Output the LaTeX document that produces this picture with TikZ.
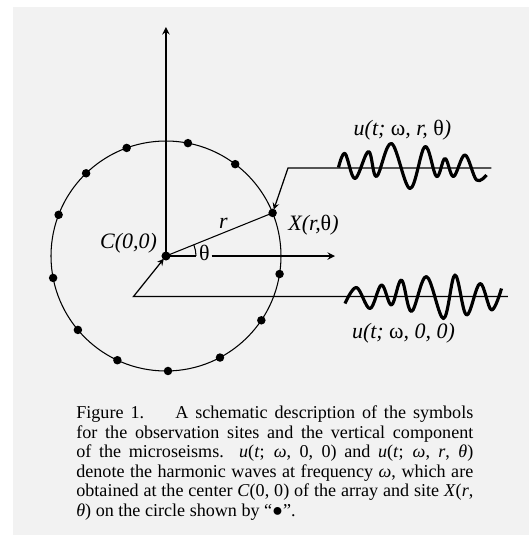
\documentclass[tikz,border=0pt]{standalone}
\usepackage{fontspec}
\setmainfont{Liberation Serif}
\begin{document}
\begin{tikzpicture}[>=stealth]
    % Лист
    \useasboundingbox (-3.32,-5.58) rectangle (7.26,5.12);
    \fill[black!5] (-3.06,-5.58) rectangle (7.26,4.98);

    % Оси
    \coordinate (C) at (0,0);
    \coordinate (ytip) at (0,4.58);
    \coordinate (xtip) at (3.38,0);
    \coordinate (X) at (22:2.3);
    \draw[line width=0.9pt, ->] (C) -- (ytip);
    \node[font=\fontsize{12.5}{14}\selectfont, inner sep=0pt] (theta) at (0.77,0.06) {θ};
    \draw[line width=0.9pt] (C) -- (0.6,0);
    \draw[line width=0.9pt, ->] (theta.east |- C) ++(0.03,0) -- (xtip);

    % Окружность
    \draw[line width=0.6pt] (C) circle (2.3);
    \draw[line width=0.6pt] (C) -- (X);
    \draw[line width=0.6pt] (0.6,0) arc (0:22:0.6);
    \node[font=\fontsize{12.5}{14}\selectfont] (rlab) at (1.15,0.66) {\textit{r}};

    % Точки наблюдения
    \foreach \a in {22,53,79,110,134,159,191,220,245,271,298,326,351}
        \fill (\a:2.3) circle (0.085);
    \fill (C) circle (0.09);

    % Подписи точек
    \node[font=\fontsize{12.5}{14}\selectfont] (labC) at (-0.75,0.25) {\textit{C(0,0)}};
    \node[font=\fontsize{12.5}{14}\selectfont] (labX) at (2.95,0.62) {\textit{X(r,}θ\textit{)}};

    % Провода
    \coordinate (topbend) at (2.44,1.76);
    \coordinate (topend) at (6.51,1.76);
    \coordinate (botbend) at (-0.65,-0.81);
    \coordinate (botend) at (6.84,-0.81);
    \draw[line width=0.7pt, ->, shorten >=2pt] (topend) -- (topbend) -- (X);
    \draw[line width=0.7pt, ->, shorten >=2pt] (botend) -- (botbend) -- (C);

    % Волны
    \draw[line width=1.8pt, line join=round] plot[smooth, tension=0.6] coordinates {
        (3.45,1.77) (3.58,2.05) (3.78,1.55) (4.05,2.09) (4.21,1.59) (4.51,2.25)
        (4.88,1.35) (5.18,2.19) (5.41,1.59) (5.58,1.95) (5.75,1.59) (5.98,2.02)
        (6.21,1.52) (6.41,1.62)};
    \draw[line width=1.8pt, line join=round] plot[smooth, tension=0.6] coordinates {
        (3.58,-0.95) (3.81,-0.63) (4.08,-1.05) (4.31,-0.58) (4.51,-0.98) (4.71,-0.48)
        (4.91,-1.11) (5.21,-0.41) (5.55,-1.25) (5.78,-0.38) (6.01,-1.18) (6.28,-0.55)
        (6.51,-1.08) (6.71,-0.65)};
    \node[font=\fontsize{12.5}{14}\selectfont] (labu1) at (4.73,2.52) {\textit{u(t; }ω\textit{, r, }θ\textit{)}};
    \node[font=\fontsize{12.5}{14}\selectfont] (labu0) at (4.75,-1.55) {\textit{u(t; }ω\textit{, 0, 0)}};

    % Подпись к рисунку
    \node[anchor=north west, text width=7.94cm, align=justify, inner sep=0pt,
        font=\fontsize{10.3}{11.1}\selectfont] (caption) at (-1.8,-2.99)
        {Figure 1.\hspace{1em} A schematic description of the symbols\linebreak
        for the observation sites and the vertical component\linebreak
        of the microseisms. \textit{u}(\textit{t}; \textit{ω}, 0, 0) and \textit{u}(\textit{t}; \textit{ω}, \textit{r}, \textit{θ})\linebreak
        denote the harmonic waves at frequency \textit{ω}, which are\linebreak
        obtained at the center \textit{C}(0, 0) of the array and site \textit{X}(\textit{r},\linebreak
        \textit{θ}) on the circle shown by “●”.};
\end{tikzpicture}
\end{document}
